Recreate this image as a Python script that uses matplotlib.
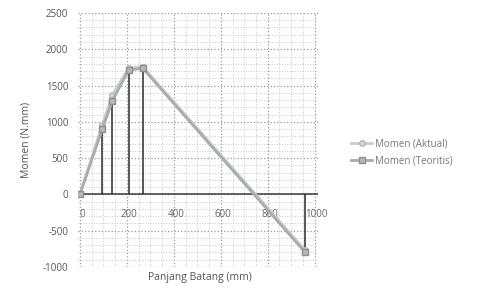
import matplotlib
matplotlib.use('Agg')
import matplotlib.pyplot as plt
from matplotlib.ticker import MultipleLocator

# data
panjang = [0, 95, 138, 207, 267, 957]
momen_aktual = [0, 960, 1370, 1740, 1760, -760]
momen_teoritis = [0, 900, 1290, 1710, 1740, -790]
x_ticks = [0, 200, 400, 600, 800, 1000]
y_ticks = [-1000, -500, 0, 500, 1000, 1500, 2000, 2500]

plt.rcParams['font.family'] = ['Open Sans', 'DejaVu Sans']

fig = plt.figure(figsize=(4.88, 2.88), dpi=100)
ax = fig.add_axes([0.16, 0.073, 0.492, 0.882])

ax.set_xlim(-8, 1015)
ax.set_ylim(-1000, 2500)

# dotted grid, major and minor
ax.xaxis.set_major_locator(MultipleLocator(200))
ax.xaxis.set_minor_locator(MultipleLocator(50))
ax.yaxis.set_major_locator(MultipleLocator(500))
ax.yaxis.set_minor_locator(MultipleLocator(100))
ax.grid(which='major', color='#9a9a9a', linestyle=':', linewidth=0.9)
ax.grid(which='minor', color='#c8c8c8', linestyle=':', linewidth=0.7)
ax.set_axisbelow(True)

for s in ax.spines.values():
    s.set_visible(False)
ax.tick_params(which='both', length=0)
ax.set_xticklabels([])
ax.set_yticks(y_ticks)
ax.set_yticklabels([str(v) for v in y_ticks], color='#555555', fontsize=7)
ax.tick_params(axis='y', pad=7)

# x axis at zero with labels just under it
ax.axhline(0, color='#3a3a3a', linewidth=1.1, zorder=2)
for t in x_ticks:
    ax.text(t + 8, -280, str(t), ha='center', va='center', fontsize=7, color='#666666')

# drop lines
ax.vlines(panjang, 0, momen_teoritis, color='#2a2a2a', linewidth=1.1, zorder=2)

ax.plot(panjang, momen_aktual, color='#c9cdd0', linewidth=2, marker='o', markersize=4,
        markerfacecolor='#d5d8da', markeredgecolor='#b5b9bc', label='Momen (Aktual)', zorder=3)
ax.plot(panjang, momen_teoritis, color='#a9acae', linewidth=2, marker='s', markersize=5,
        markerfacecolor='#b8b8b8', markeredgecolor='#8e8e8e', label='Momen (Teoritis)', zorder=3)

fig.text(0.41, 0.035, 'Panjang Batang (mm)', ha='center', va='center', fontsize=7.5, color='#555555')
ax.set_ylabel('Momen (N.mm)', fontsize=7.5, color='#555555', labelpad=8)

ax.legend(loc='center left', bbox_to_anchor=(1.1, 0.45), frameon=False, fontsize=7,
          labelcolor='#777777', handlelength=2.2, handletextpad=0.3, labelspacing=0.6)

fig.savefig('out.png', dpi=100, facecolor='white')
